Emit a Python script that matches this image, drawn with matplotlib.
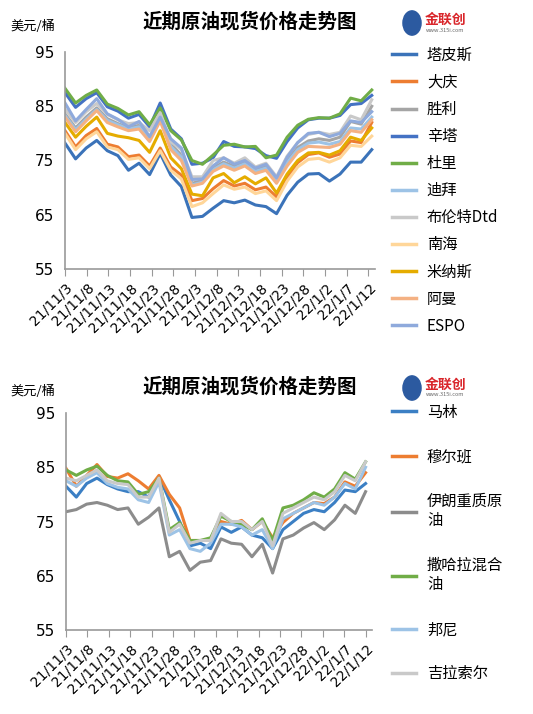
import numpy as np
import matplotlib.pyplot as plt
from matplotlib.lines import Line2D

plt.rcParams['font.family'] = ['Noto Sans CJK SC', 'DejaVu Sans']

date_labels = ['21/11/3', '21/11/8', '21/11/13', '21/11/18', '21/11/23', '21/11/28',
               '21/12/3', '21/12/8', '21/12/13', '21/12/18', '21/12/23', '21/12/28',
               '22/1/2', '22/1/7', '22/1/12']

# top chart series
tapis = [78.2, 75.3, 77.3, 78.7, 76.8, 75.9, 73.2, 74.5, 72.4, 76.3, 72.3, 70.2, 64.5, 64.7, 66.2,
         67.6, 67.2, 67.7, 66.8, 66.5, 65.2, 68.6, 71.0, 72.5, 72.6, 71.2, 72.5, 74.7, 74.7, 77.0]
daqing = [80.5, 77.5, 79.6, 80.9, 78.0, 77.5, 75.7, 76.0, 74.0, 77.3, 73.8, 72.3, 67.6, 68.0, 69.8,
          71.3, 70.3, 70.8, 69.6, 70.1, 68.3, 71.9, 74.6, 76.1, 76.4, 75.6, 76.2, 78.6, 78.3, 82.0]
shengli = [83.6, 81.0, 83.0, 84.7, 82.7, 81.8, 81.0, 81.5, 79.2, 82.9, 78.0, 76.0, 70.8, 71.3, 73.6,
           74.7, 73.9, 74.7, 73.3, 73.9, 71.6, 75.0, 77.4, 78.6, 79.0, 78.7, 79.3, 82.2, 81.7, 85.0]
xinta = [87.5, 84.8, 86.4, 87.5, 84.9, 84.1, 82.8, 83.5, 81.2, 85.6, 80.8, 79.0, 74.3, 74.5, 75.5,
         78.5, 77.6, 77.5, 77.2, 75.9, 75.4, 78.5, 81.0, 82.5, 82.8, 82.8, 83.3, 85.3, 85.5, 87.0]
duli = [88.3, 85.6, 87.0, 88.0, 85.4, 84.6, 83.4, 84.0, 81.6, 84.7, 80.5, 78.8, 75.0, 74.3, 76.0,
        77.8, 78.0, 77.5, 77.6, 75.5, 76.0, 79.3, 81.5, 82.6, 82.9, 82.8, 83.6, 86.5, 86.0, 88.0]
dubai = [83.3, 80.7, 82.6, 84.4, 82.4, 81.6, 80.8, 81.2, 79.0, 82.6, 77.6, 75.6, 70.5, 71.0, 73.3,
         74.4, 73.6, 74.4, 73.0, 73.6, 71.3, 74.6, 77.0, 78.2, 78.4, 78.0, 78.5, 81.0, 80.8, 83.0]
brent = [84.5, 82.0, 84.0, 85.5, 83.5, 82.5, 81.8, 82.0, 80.5, 83.8, 78.5, 77.0, 72.0, 72.0, 75.0,
         75.5, 74.5, 75.5, 73.8, 74.5, 72.0, 75.8, 78.3, 79.8, 80.2, 79.8, 80.2, 83.2, 82.5, 86.2]
nanhai = [80.0, 77.0, 79.0, 80.3, 77.5, 77.0, 75.2, 75.5, 73.5, 76.8, 73.2, 71.6, 66.5, 67.2, 68.9,
          70.5, 69.7, 70.1, 68.9, 69.4, 67.6, 71.2, 73.8, 75.2, 75.4, 74.7, 75.5, 77.8, 77.6, 79.5]
minas = [82.0, 79.3, 81.3, 83.0, 80.0, 79.5, 79.2, 78.7, 76.5, 80.5, 75.5, 73.5, 68.8, 68.5, 71.8,
         72.6, 70.9, 72.0, 70.7, 71.8, 69.0, 72.5, 75.0, 76.4, 76.5, 76.0, 76.8, 79.3, 78.7, 81.0]
oman = [83.0, 80.3, 82.3, 84.2, 82.0, 81.2, 80.5, 80.8, 78.5, 82.3, 77.0, 75.0, 70.3, 70.8, 73.0,
        74.0, 73.2, 74.0, 72.6, 73.2, 70.8, 74.0, 76.5, 77.6, 77.5, 77.4, 78.0, 80.5, 80.2, 82.5]
espo = [85.6, 82.3, 84.4, 86.4, 83.6, 82.6, 81.2, 82.2, 79.4, 83.0, 79.0, 77.3, 71.5, 71.6, 74.0,
        75.5, 74.3, 75.0, 73.6, 74.3, 71.8, 75.6, 78.3, 80.0, 80.2, 79.4, 80.0, 82.3, 82.0, 84.0]

# bottom chart series
malin = [81.5, 79.5, 82.0, 83.0, 81.8, 81.0, 80.5, 80.5, 79.5, 83.3, 79.0, 75.0, 70.5, 71.0, 70.0,
         74.0, 73.0, 74.0, 72.5, 72.0, 70.0, 73.5, 75.0, 76.5, 77.2, 76.8, 78.5, 80.8, 80.5, 82.0]
murban = [84.8, 81.5, 83.5, 85.5, 83.3, 83.0, 83.8, 82.5, 81.0, 83.5, 80.0, 77.5, 71.5, 71.5, 71.5,
          75.0, 74.5, 75.2, 73.5, 75.0, 72.0, 74.8, 76.5, 77.5, 78.5, 78.3, 79.5, 82.3, 81.5, 84.0]
iran_heavy = [76.8, 77.2, 78.2, 78.5, 78.0, 77.2, 77.5, 74.5, 75.8, 77.5, 68.5, 69.5, 66.0, 67.5, 67.8,
              71.8, 71.0, 70.8, 68.5, 70.8, 65.5, 71.8, 72.5, 73.8, 74.8, 73.5, 75.3, 78.0, 76.5, 80.5]
saharan = [84.5, 83.5, 84.5, 85.2, 83.5, 82.5, 82.3, 80.0, 80.5, 83.0, 73.5, 74.8, 71.5, 71.5, 72.0,
           76.0, 75.0, 74.5, 73.5, 75.5, 71.5, 77.5, 78.0, 79.0, 80.3, 79.5, 81.0, 84.0, 82.8, 86.0]
bonny = [82.5, 81.5, 83.0, 84.0, 82.0, 81.3, 81.0, 79.0, 78.5, 82.3, 72.5, 73.5, 70.0, 69.5, 71.0,
         74.5, 74.5, 74.0, 72.5, 73.5, 70.0, 75.5, 76.5, 77.5, 78.5, 78.0, 79.5, 82.0, 81.0, 85.0]
girassol = [83.0, 82.5, 83.5, 84.5, 82.5, 82.0, 81.8, 79.5, 79.5, 83.0, 73.0, 74.5, 71.0, 71.5, 71.5,
            76.5, 75.0, 75.0, 73.5, 75.0, 70.5, 76.5, 77.5, 78.5, 79.5, 79.0, 80.5, 83.5, 82.5, 86.0]

top_series = [
    ('塔皮斯', tapis, '#3B73B9'), ('大庆', daqing, '#ED7D31'), ('胜利', shengli, '#A5A5A5'),
    ('辛塔', xinta, '#4472C4'), ('杜里', duli, '#70AD47'), ('迪拜', dubai, '#9DC3E6'),
    ('布伦特Dtd', brent, '#C9C9C9'), ('南海', nanhai, '#FFD699'), ('米纳斯', minas, '#E5AC00'),
    ('阿曼', oman, '#F4B183'), ('ESPO', espo, '#8FAADC'),
]
bottom_series = [
    ('马林', malin, '#3B7FC4'), ('穆尔班', murban, '#ED7D31'), ('伊朗重质原\n油', iran_heavy, '#8C8C8C'),
    ('撒哈拉混合\n油', saharan, '#70AD47'), ('邦尼', bonny, '#9DC3E6'), ('吉拉索尔', girassol, '#C9C9C9'),
]

fig = plt.figure(figsize=(5.33, 7.14), dpi=100)
W, H = 533, 714


def draw(box, series, x_end, title_y, legend_y, spacing):
    l, t, r, b = box
    ax = fig.add_axes([l / W, 1 - b / H, (r - l) / W, (b - t) / H])
    x = np.linspace(0, x_end, len(series[0][1]))
    for name, vals, col in series:
        ax.plot(x, vals, color=col, lw=2.2)
    ax.set_ylim(55, 95)
    ax.set_yticks([55, 65, 75, 85, 95])
    ax.set_xlim(0, 14.3)
    ax.set_xticks(range(len(date_labels)))
    ax.set_xticklabels(date_labels, rotation=45, ha='right', rotation_mode='anchor', fontsize=10,
                       family=['DejaVu Sans'])
    ax.tick_params(axis='y', length=0, labelsize=11, pad=8)
    ax.tick_params(axis='x', length=5, color='#999999')
    for s in ['top', 'right']:
        ax.spines[s].set_visible(False)
    for s in ['left', 'bottom']:
        ax.spines[s].set_color('#999999')
        ax.spines[s].set_linewidth(1.2)
    for lab in ax.get_yticklabels():
        lab.set_family(['DejaVu Sans'])
    fig.text(250 / W, 1 - title_y / H, '近期原油现货价格走势图', ha='center', va='center',
             fontsize=14, fontweight='bold')
    fig.text(10 / W, 1 - (title_y + 4) / H, '美元/桶', ha='left', va='center', fontsize=9.5)
    fig.text(425 / W, 1 - (title_y - 2) / H, '金联创', ha='left', va='center', fontsize=10,
             color='#D9262B', fontweight='bold')
    fig.text(426 / W, 1 - (title_y + 8) / H, 'www.315i.com', ha='left', va='center', fontsize=4,
             color='#666666')
    fig.patches.append(plt.Circle((412 / W, 1 - (title_y + 1) / H), 0.017, transform=fig.transFigure,
                                  color='#2C5AA0', figure=fig))
    handles = [Line2D([], [], color=c, lw=2.5) for _, _, c in series]
    fig.legend(handles, [n for n, _, _ in series], loc='upper left',
               bbox_to_anchor=(378 / W, 1 - legend_y / H), frameon=False, fontsize=11,
               handlelength=1.6, handletextpad=0.7, labelspacing=spacing)
    return ax


draw((65, 52, 375, 269), top_series, 14.15, 22, 33, 0.66)
draw((66, 413, 372, 630), bottom_series, 14.0, 387, 390, 1.8)

fig.savefig('out.png', dpi=100)
